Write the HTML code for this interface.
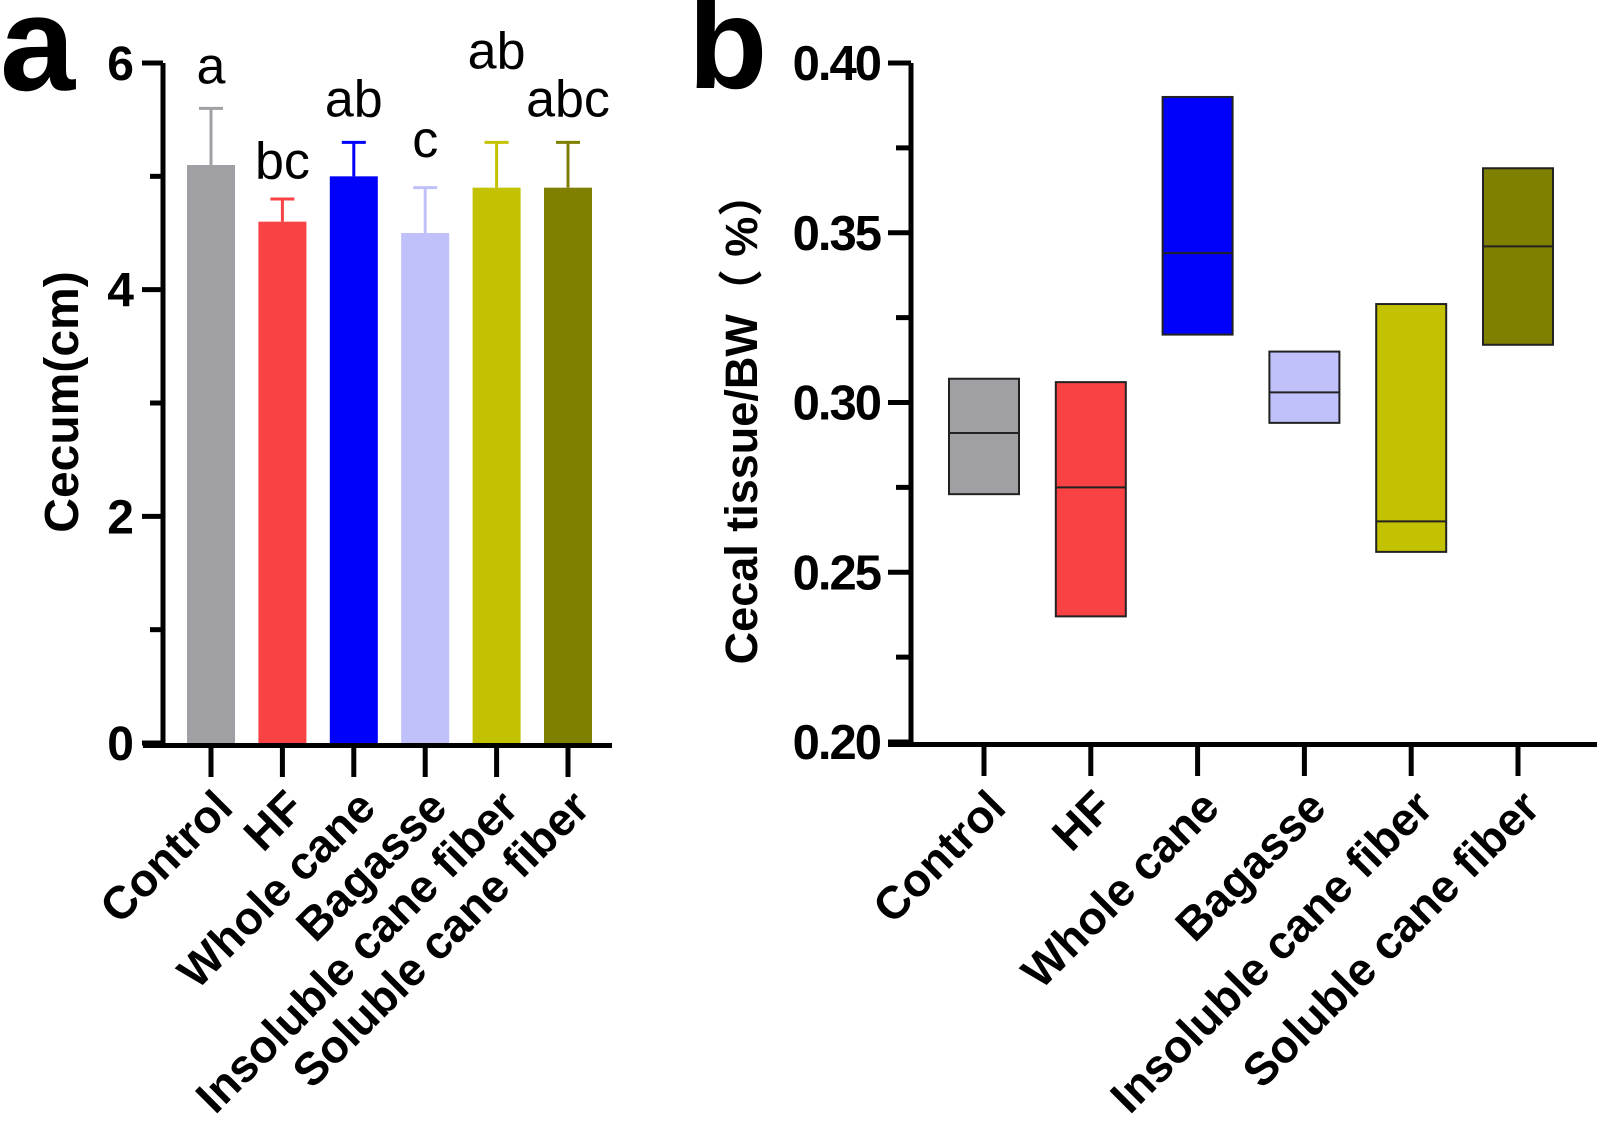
<!DOCTYPE html>
<html><head><meta charset="utf-8"><style>
html,body{margin:0;padding:0;background:#fff;}
svg{display:block;font-family:"Liberation Sans","Noto Sans CJK SC",sans-serif;}
</style></head><body>
<svg id="fig" width="1600" height="1127" viewBox="0 0 1600 1127">
<text x="0" y="90" font-size="135" font-weight="bold">a</text>
<text x="688" y="88" font-size="130" font-weight="bold">b</text>
<g id="ga"></g>
<g id="gb"></g>
</svg>
<script>
const categories = ["Control","HF","Whole cane","Bagasse","Insoluble cane fiber","Soluble cane fiber"];
const colors = ["#a09fa4","#f84244","#0000fb","#c0c0fb","#c2c200","#808000"];
const cecumMean = [5.1,4.6,5.0,4.5,4.9,4.9];
const cecumErrTop = [5.6,4.8,5.3,4.9,5.3,5.3];
const sigLetters = ["a","bc","ab","c","ab","abc"];
const sigLetterY = [5.82,4.98,5.53,5.17,5.95,5.53];
const ticksA = [0,2,4,6];
const boxLow = [0.273,0.237,0.320,0.294,0.256,0.317];
const boxMid = [0.291,0.275,0.344,0.303,0.265,0.346];
const boxHigh = [0.307,0.306,0.390,0.315,0.329,0.369];
const ticksB = [0.20,0.25,0.30,0.35,0.40];

const NS="http://www.w3.org/2000/svg";
function mk(parent,tag,attrs){const e=document.createElementNS(NS,tag);for(const k in attrs)e.setAttribute(k,attrs[k]);parent.appendChild(e);return e;}

// Panel A
const ga=document.getElementById('ga');
const yA=v=>743-(v/6)*680;
const xA=i=>211+i*71.4;
for(let v=0;v<=6;v+=1){const major=v%2===0;const t=mk(ga,'line',{x1:major?142:150,x2:163,y1:yA(v),y2:yA(v),stroke:'#000','stroke-width':5});

}
ticksA.forEach(v=>{const t=mk(ga,'text',{x:133,y:yA(v)+17,'font-size':48,'font-weight':'bold','text-anchor':'end','letter-spacing':-1});t.textContent=v;

});
categories.forEach((c,i)=>{
 const x=xA(i);
 const eb=mk(ga,'path',{d:`M${x} ${yA(cecumMean[i])} V${yA(cecumErrTop[i])} M${x-12} ${yA(cecumErrTop[i])} H${x+12}`,stroke:colors[i],'stroke-width':3,fill:'none'});
 
 
 const b=mk(ga,'rect',{x:x-24,y:yA(cecumMean[i]),width:48,height:yA(0)-yA(cecumMean[i]),fill:colors[i]});
 
 
 const l=mk(ga,'text',{x:x,y:yA(sigLetterY[i]),'font-size':52,'text-anchor':'middle'});l.textContent=sigLetters[i];
 
 
 const tk=mk(ga,'line',{x1:x,x2:x,y1:743,y2:777,stroke:'#000','stroke-width':5});
 
 
 const tl=mk(ga,'text',{transform:`translate(${x+24},${810}) rotate(-45)`,'font-size':46,'font-weight':'bold','text-anchor':'end'});tl.textContent=c;
 
 
});
const axA=mk(ga,'path',{d:`M163 ${yA(6)} V${745.5} M143 745.5 H612`,stroke:'#000','stroke-width':5,fill:'none'});


const tA=mk(ga,'text',{transform:'translate(78,402) rotate(-90)','font-size':48,'font-weight':'bold','text-anchor':'middle'});tA.textContent='Cecum(cm)';



// Panel B
const gb=document.getElementById('gb');
const yB=v=>742-((v-0.2)/0.2)*679;
const xB=i=>984+i*106.8;
for(let k=0;k<=8;k++){const v=0.2+k*0.025;const major=k%2===0;const t=mk(gb,'line',{x1:major?888:896,x2:911,y1:yB(v),y2:yB(v),stroke:'#000','stroke-width':5});

}
ticksB.forEach(v=>{const t=mk(gb,'text',{x:880,y:yB(v)+17,'font-size':49,'font-weight':'bold','text-anchor':'end','letter-spacing':-2});t.textContent=v.toFixed(2);

});
categories.forEach((c,i)=>{
 const x=xB(i);
 const b=mk(gb,'rect',{x:x-35,y:yB(boxHigh[i]),width:70,height:yB(boxLow[i])-yB(boxHigh[i]),fill:colors[i],stroke:'#222','stroke-width':2});
 
 
 const m=mk(gb,'line',{x1:x-35,x2:x+35,y1:yB(boxMid[i]),y2:yB(boxMid[i]),stroke:'#222','stroke-width':2});
 
 
 const tk=mk(gb,'line',{x1:x,x2:x,y1:742,y2:776,stroke:'#000','stroke-width':5});
 
 
 const tl=mk(gb,'text',{transform:`translate(${x+24},${810}) rotate(-45)`,'font-size':46,'font-weight':'bold','text-anchor':'end'});tl.textContent=c;
 
 
});
const axB=mk(gb,'path',{d:`M911 ${yB(0.4)} V744.5 M888 744.5 H1597`,stroke:'#000','stroke-width':5,fill:'none'});


const tB=mk(gb,'text',{transform:'translate(757,418) rotate(-90)','font-size':45,'font-weight':'bold','text-anchor':'middle'});tB.textContent='Cecal tissue/BW（ %）';


</script>
</body></html>
